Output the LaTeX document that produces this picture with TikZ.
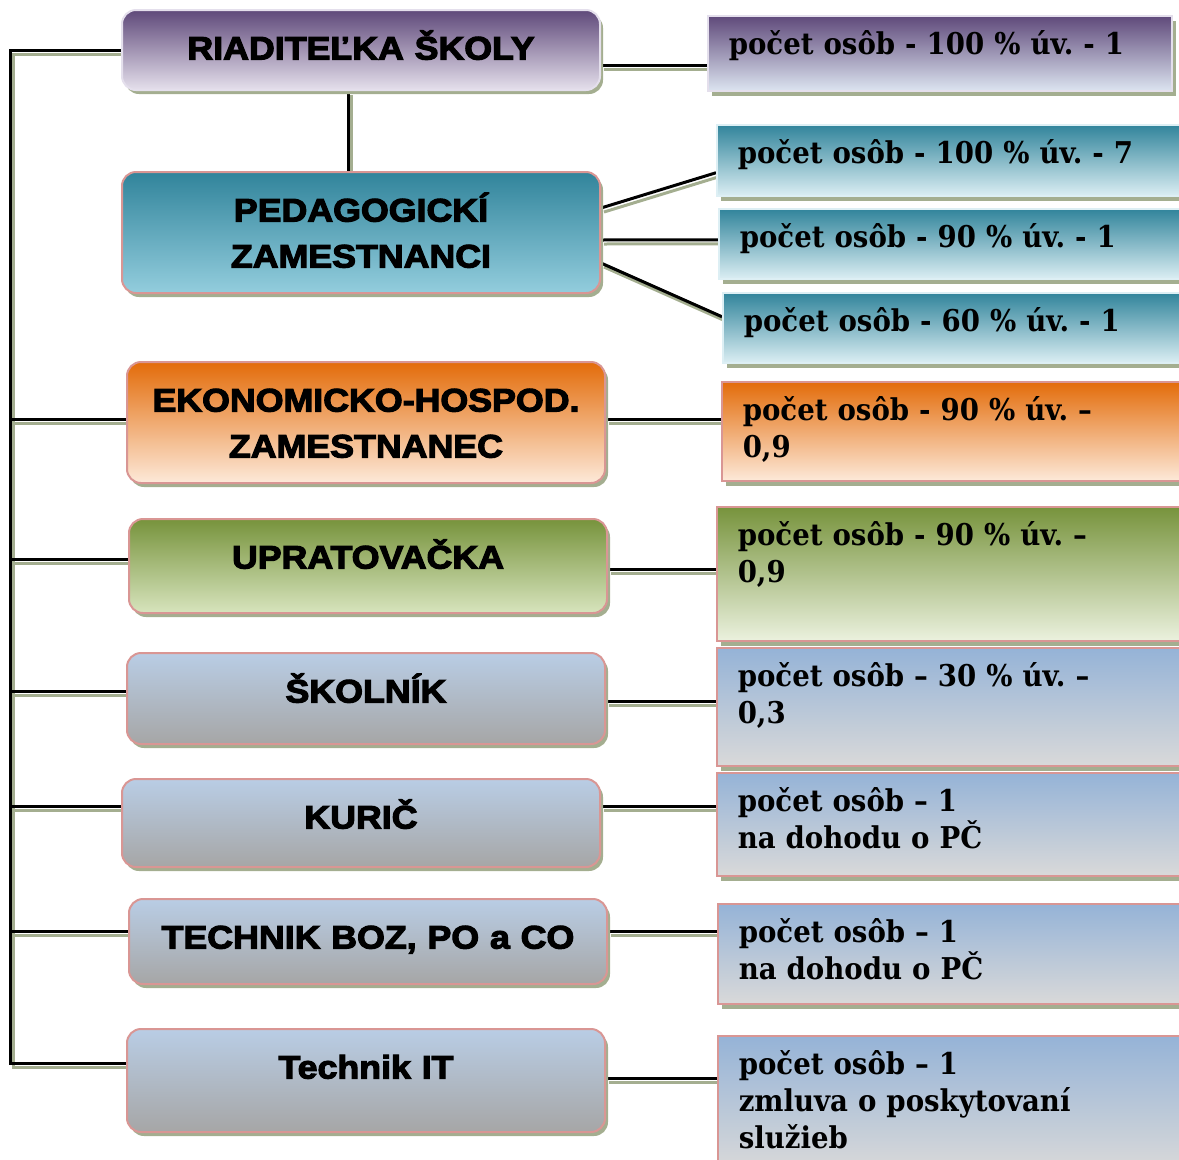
\documentclass[tikz,border=0pt]{standalone}
\usepackage{fontspec}
\usepackage{tikz}
\usetikzlibrary{shadows,backgrounds}

\newfontfamily\headfont{Liberation Sans}[FakeStretch=1.1,FakeBold=3.5]
\newfontfamily\countfont{DejaVu Serif}[FakeStretch=0.92]

\definecolor{shadowgreen}{HTML}{A4AE90}
\definecolor{rimpink}{HTML}{D99694}
\definecolor{rimlilac}{HTML}{E4DFEC}
\definecolor{rimaqua}{HTML}{DDEFF4}
\frenchspacing

\begin{document}
\begin{tikzpicture}[x=1pt,y=-1pt,
  head/.style={anchor=north west, rounded corners=14pt, draw=rimpink, line width=2pt,
    inner sep=0pt, text width=478pt, align=center, text height=49.5pt,
    font=\headfont\bfseries\fontsize{32.5pt}{46pt}\selectfont,
    drop shadow={shadow xshift=3pt, shadow yshift=-4pt, fill=shadowgreen, opacity=1}},
  note/.style={anchor=north west, draw=rimpink, line width=1.5pt,
    inner xsep=21pt, inner ysep=0pt, text width=430pt, align=left, text height=39pt,
    font=\countfont\bfseries\fontsize{30pt}{37pt}\selectfont,
    drop shadow={shadow xshift=4pt, shadow yshift=-5pt, fill=shadowgreen, opacity=1}},
  link/.style={draw=black, line width=3pt},
  linkshade/.style={draw=shadowgreen, line width=3pt, transform canvas={shift={(3pt,-4pt)}}}]

\definecolor{lilactop}{HTML}{5F497A}
\definecolor{lilacmid}{HTML}{B2A6C6}
\definecolor{lilacbot}{HTML}{E5E0EC}
\definecolor{tealtop}{HTML}{31849B}
\definecolor{tealmid}{HTML}{62A8BD}
\definecolor{tealbot}{HTML}{93CDDD}
\definecolor{orangetop}{HTML}{E36C0A}
\definecolor{orangemid}{HTML}{F3B48E}
\definecolor{orangebot}{HTML}{FDE9D9}
\definecolor{olivetop}{HTML}{77933C}
\definecolor{olivemid}{HTML}{B1C58C}
\definecolor{olivebot}{HTML}{D7E4BD}
\definecolor{steeltop}{HTML}{B9CDE5}
\definecolor{steelmid}{HTML}{B0BAC7}
\definecolor{steelbot}{HTML}{A6A6A6}
\definecolor{notesteeltop}{HTML}{95B3D7}
\definecolor{notesteelmid}{HTML}{B8C5D7}
\definecolor{notesteelbot}{HTML}{D9D9D9}
\definecolor{notetealmid}{HTML}{8CC1D0}
\definecolor{notetealbot}{HTML}{DBEEF3}
\definecolor{notelilacmid}{HTML}{ACA5C6}
\definecolor{notelilacbot}{HTML}{DCE4F0}
\definecolor{noteolivemid}{HTML}{B7C99A}
\definecolor{noteolivebot}{HTML}{EBF1DE}

\tikzset{
  lilacbox/.style={top color=lilactop, middle color=lilacmid, bottom color=lilacbot},
  tealbox/.style={top color=tealtop, middle color=tealmid, bottom color=tealbot},
  orangebox/.style={top color=orangetop, middle color=orangemid, bottom color=orangebot},
  olivebox/.style={top color=olivetop, middle color=olivemid, bottom color=olivebot},
  steelbox/.style={top color=steeltop, middle color=steelmid, bottom color=steelbot},
  lilacnote/.style={top color=lilactop, middle color=notelilacmid, bottom color=notelilacbot},
  tealnote/.style={top color=tealtop, middle color=notetealmid, bottom color=notetealbot},
  orangenote/.style={top color=orangetop, middle color=orangemid, bottom color=orangebot},
  olivenote/.style={top color=olivetop, middle color=noteolivemid, bottom color=noteolivebot},
  steelnote/.style={top color=notesteeltop, middle color=notesteelmid, bottom color=notesteelbot}
}

\useasboundingbox (0,0) rectangle (1179,1160);

% left column
\node[head, lilacbox, draw=rimlilac, text depth=30.5pt] (riad) at (121,9) {RIADITEĽKA ŠKOLY};
\node[head, tealbox, text depth=71.5pt] (ped) at (121,171) {PEDAGOGICKÍ\\ZAMESTNANCI};
\node[head, orangebox, text depth=71.5pt] (eko) at (126,361) {EKONOMICKO-HOSPOD.\\ZAMESTNANEC};
\node[head, olivebox, text depth=44.5pt] (uprat) at (128,518) {UPRATOVAČKA};
\node[head, steelbox, text depth=41.5pt] (skol) at (126,652) {ŠKOLNÍK};
\node[head, steelbox, text depth=38.5pt] (kuric) at (121,778) {KURIČ};
\node[head, steelbox, text depth=35.5pt] (tech) at (128,898) {TECHNIK BOZ, PO a CO};
\node[head, steelbox, text depth=53.5pt] (it) at (126,1028) {Technik IT};

% right column
\node[note, lilacnote, draw=rimlilac, text width=422pt, text depth=36pt] (riadpocet) at (707,15) {počet osôb - 100 \% úv. - 1};
\node[note, tealnote, draw=rimaqua, text depth=32pt] (ped100) at (716,124) {počet osôb - 100 \% úv. - 7};
\node[note, tealnote, draw=rimaqua, text depth=31pt] (ped90) at (718,208) {počet osôb - 90 \% úv. - 1};
\node[note, tealnote, draw=rimaqua, text depth=31pt] (ped60) at (722,292) {počet osôb - 60 \% úv. - 1};
\node[note, orangenote, text depth=60pt] (ekopocet) at (721,381) {počet osôb - 90 \% úv. –\\0,9};
\node[note, olivenote, text depth=95pt] (uprpocet) at (716,506) {počet osôb - 90 \% úv. –\\0,9};
\node[note, steelnote, text depth=79pt] (skolpocet) at (716,647) {počet osôb – 30 \% úv. –\\0,3};
\node[note, steelnote, text depth=64pt] (kurpocet) at (716,772) {počet osôb – 1\\na dohodu o PČ};
\node[note, steelnote, text depth=61pt] (techpocet) at (717,903) {počet osôb – 1\\na dohodu o PČ};
\node[note, steelnote, text depth=96pt] (itpocet) at (717,1035) {počet osôb – 1\\zmluva o poskytovaní\\služieb};

\begin{scope}[on background layer]
% trunk on the left
\coordinate (trunkend) at (10,1063);
\draw[linkshade] (riad.west) -| (trunkend) -- (trunkend -| it.west);
\draw[link] (riad.west) -| (trunkend) -- (trunkend -| it.west);

\foreach \src/\dy in {eko/3.5, uprat/7, skol/7.5, kuric/17, tech/10.5}{
  \path ([yshift=\dy pt]\src.west) coordinate (stub);
  \draw[linkshade] (stub) -- (stub -| trunkend);
  \draw[link] (stub) -- (stub -| trunkend);
}

% director to teachers
\path ([xshift=-13pt]riad.south) coordinate (stub);
\draw[linkshade] (stub) -- (stub |- ped.north);
\draw[link] (stub) -- (stub |- ped.north);

% boxes to counts
\foreach \src/\dst/\dy in {riad/riadpocet/-15, eko/ekopocet/3.5, uprat/uprpocet/-3,
    skol/skolpocet/-2.5, kuric/kurpocet/17, tech/techpocet/10.5, it/itpocet/2.5}{
  \path ([yshift=\dy pt]\src.east) coordinate (stub);
  \draw[linkshade] (stub) -- (stub -| \dst.west);
  \draw[link] (stub) -- (stub -| \dst.west);
}

\foreach \dst/\dya/\dyb in {ped100/24.5/-12.5, ped90/-7.5/4, ped60/-30.5/11}{
  \draw[linkshade] ([yshift=\dya pt]ped.east) -- ([yshift=\dyb pt]\dst.west);
  \draw[link] ([yshift=\dya pt]ped.east) -- ([yshift=\dyb pt]\dst.west);
}
\end{scope}

\end{tikzpicture}
\end{document}
